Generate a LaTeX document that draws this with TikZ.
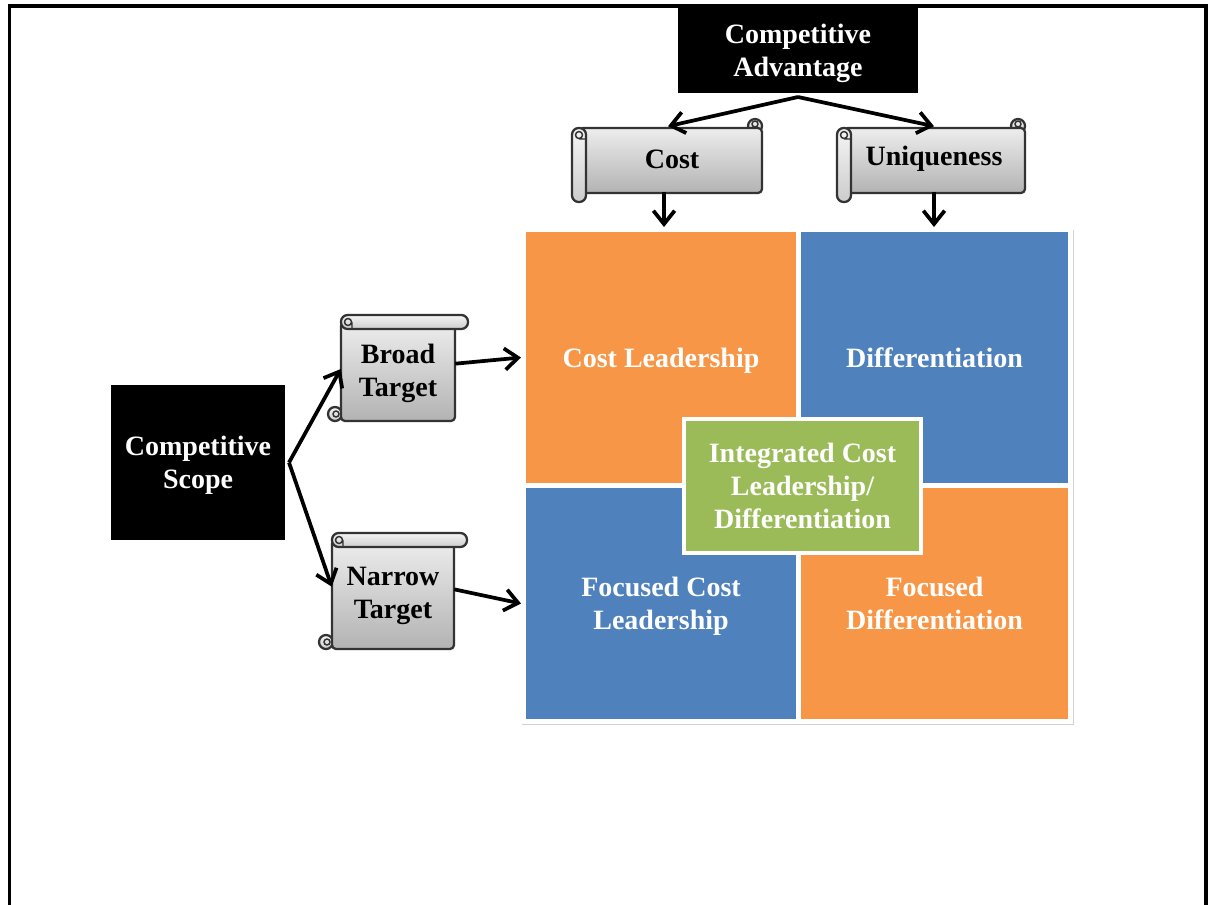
\documentclass[tikz,border=0pt]{standalone}
\usepackage{fontspec}
\setmainfont{Liberation Serif}
\usetikzlibrary{arrows.meta,shadows}

\definecolor{leadorange}{HTML}{F79646}
\definecolor{leadblue}{HTML}{4F81BD}
\definecolor{leadgreen}{HTML}{9BBB59}

\tikzset{
  sz/.style 2 args={minimum width={#1*0.75pt}, minimum height={#2*0.75pt}},
  lbl/.style={font=\bfseries\fontsize{21}{24.8}\selectfont, align=center},
  darkbox/.style={inner sep=0pt, fill=black, draw=white, line width=3pt, text=white, lbl,
    text depth=0pt, drop shadow={opacity=0.3, shadow xshift=0.6pt, shadow yshift=-1.8pt}},
  quadrant/.style={inner sep=0pt, draw=white, line width=3.75pt, text=white, lbl, text depth=0pt},
  scrolltext/.style={inner sep=0pt, lbl, text=black},
  flow/.style={line width=2.8pt, -{Straight Barb[length=10pt,width=16pt,line width=2.8pt]}},
  scrollline/.style={draw=black!80, line width=1.7pt, line join=round},
  scrollbody/.style={scrollline, top color=black!7, bottom color=black!30},
  scrollroll/.style={scrollline, top color=black!4, bottom color=black!20},
  curl/.style={draw=black!80, line width=1.1pt},
}

% scroll with its roll along the top edge: x0 y0 x1 y1
\newcommand\vscrollshape[4]{%
  \path[scrollroll] ({#1+8},{#4-7}) circle[radius=7];
  \path[scrollbody, rounded corners=3pt] ({#1+14},{#2+7}) rectangle ({#3-13},{#4});
  \draw[curl] ({#1+9},{#4-7}) circle[radius=3];
  \path[scrollroll, rounded corners=5pt] ({#1+14},{#2}) rectangle ({#3},{#2+14});
  \draw[curl] ({#1+21},{#2+7}) circle[radius=3.5] ({#1+25},{#2+7}) -- ({#1+25},{#2+14});
}
% scroll with its roll along the left edge: x0 y0 x1 y1
\newcommand\hscrollshape[4]{%
  \path[scrollroll] ({#3-7},{#2+8}) circle[radius=7];
  \draw[curl] ({#3-7},{#2+6}) circle[radius=3];
  \path[scrollbody, rounded corners=3pt] ({#1+7},{#2+10}) rectangle ({#3},{#4-9});
  \path[scrollroll, rounded corners=5pt] ({#1},{#2+10}) rectangle ({#1+14},{#4});
  \draw[curl] ({#1+7},{#2+17}) circle[radius=3.5] ({#1+7},{#2+21}) -- ({#1+14},{#2+21});
}

\begin{document}
\begin{tikzpicture}[x=0.75pt, y=-0.75pt]
\useasboundingbox (0,0) rectangle (1209,904);
\clip (0,0) rectangle (1209,904);
\fill[white] (0,0) rectangle (1209,904);

% strategy grid
\path[fill=white, drop shadow={opacity=0.35, shadow xshift=0.6pt, shadow yshift=-2.4pt}]
  (521,227) rectangle (1073,722);
\node[quadrant, fill=leadorange, sz={275}{256}] (TL) at (661,357.5) {Cost Leadership};
\node[quadrant, fill=leadblue, sz={272}{256}] (TR) at (934.5,357.5) {Differentiation};
\node[quadrant, fill=leadblue, sz={275}{236}] (BL) at (661,603.5) {Focused Cost\\Leadership};
\node[quadrant, fill=leadorange, sz={272}{236}] (BR) at (934.5,603.5) {Focused\\Differentiation};
\node[quadrant, fill=leadgreen, line width=3pt, sz={237}{134},
  drop shadow={opacity=0.3, shadow xshift=0.5pt, shadow yshift=-1.5pt}]
  (icl) at (802.5,486) {Integrated Cost\\Leadership/\\Differentiation};

% black heading boxes
\node[darkbox, sz={244}{89}] (ca) at (798,50.5) {Competitive\\Advantage};
\node[darkbox, sz={178}{159}] (scope) at (198,462.5) {Competitive\\Scope};

% scrolls
\hscrollshape{572}{118}{762}{202}
\node[scrolltext, sz={176}{65}] (cost) at (672,159) {Cost};
\hscrollshape{837}{118}{1025}{202}
\node[scrolltext, sz={174}{65}] (uniq) at (934,159) {Uniqueness};
\vscrollshape{327}{315}{468}{421}
\node[scrolltext, sz={114}{93}] (broad) at (398,373) {Broad\\Target};
\vscrollshape{318}{533}{467}{649}
\node[scrolltext, sz={122}{102}] (narrow) at (393,596) {Narrow\\Target};

% connectors
\draw[flow] (ca.south) -- ([xshift=-3pt]cost.north);
\draw[flow] (ca.south) -- (uniq.north);
\draw[flow] ([xshift=-6pt]cost.south) -- ([xshift=-6pt]cost.south |- TL.north);
\draw[flow] (uniq.south) -- (uniq.south |- TR.north);
\draw[flow] (scope.east) -- ([yshift=3pt]broad.west);
\draw[flow] (scope.east) -- ([yshift=7pt]narrow.west);
\draw[flow] ([yshift=7pt]broad.east) -- (TL.west);
\draw[flow] ([yshift=5pt]narrow.east) -- (BL.west);

% page frame
\draw[line width=2.4pt] (9.5,910) -- (9.5,6) -- (1206,6) -- (1206,910);
\end{tikzpicture}
\end{document}
